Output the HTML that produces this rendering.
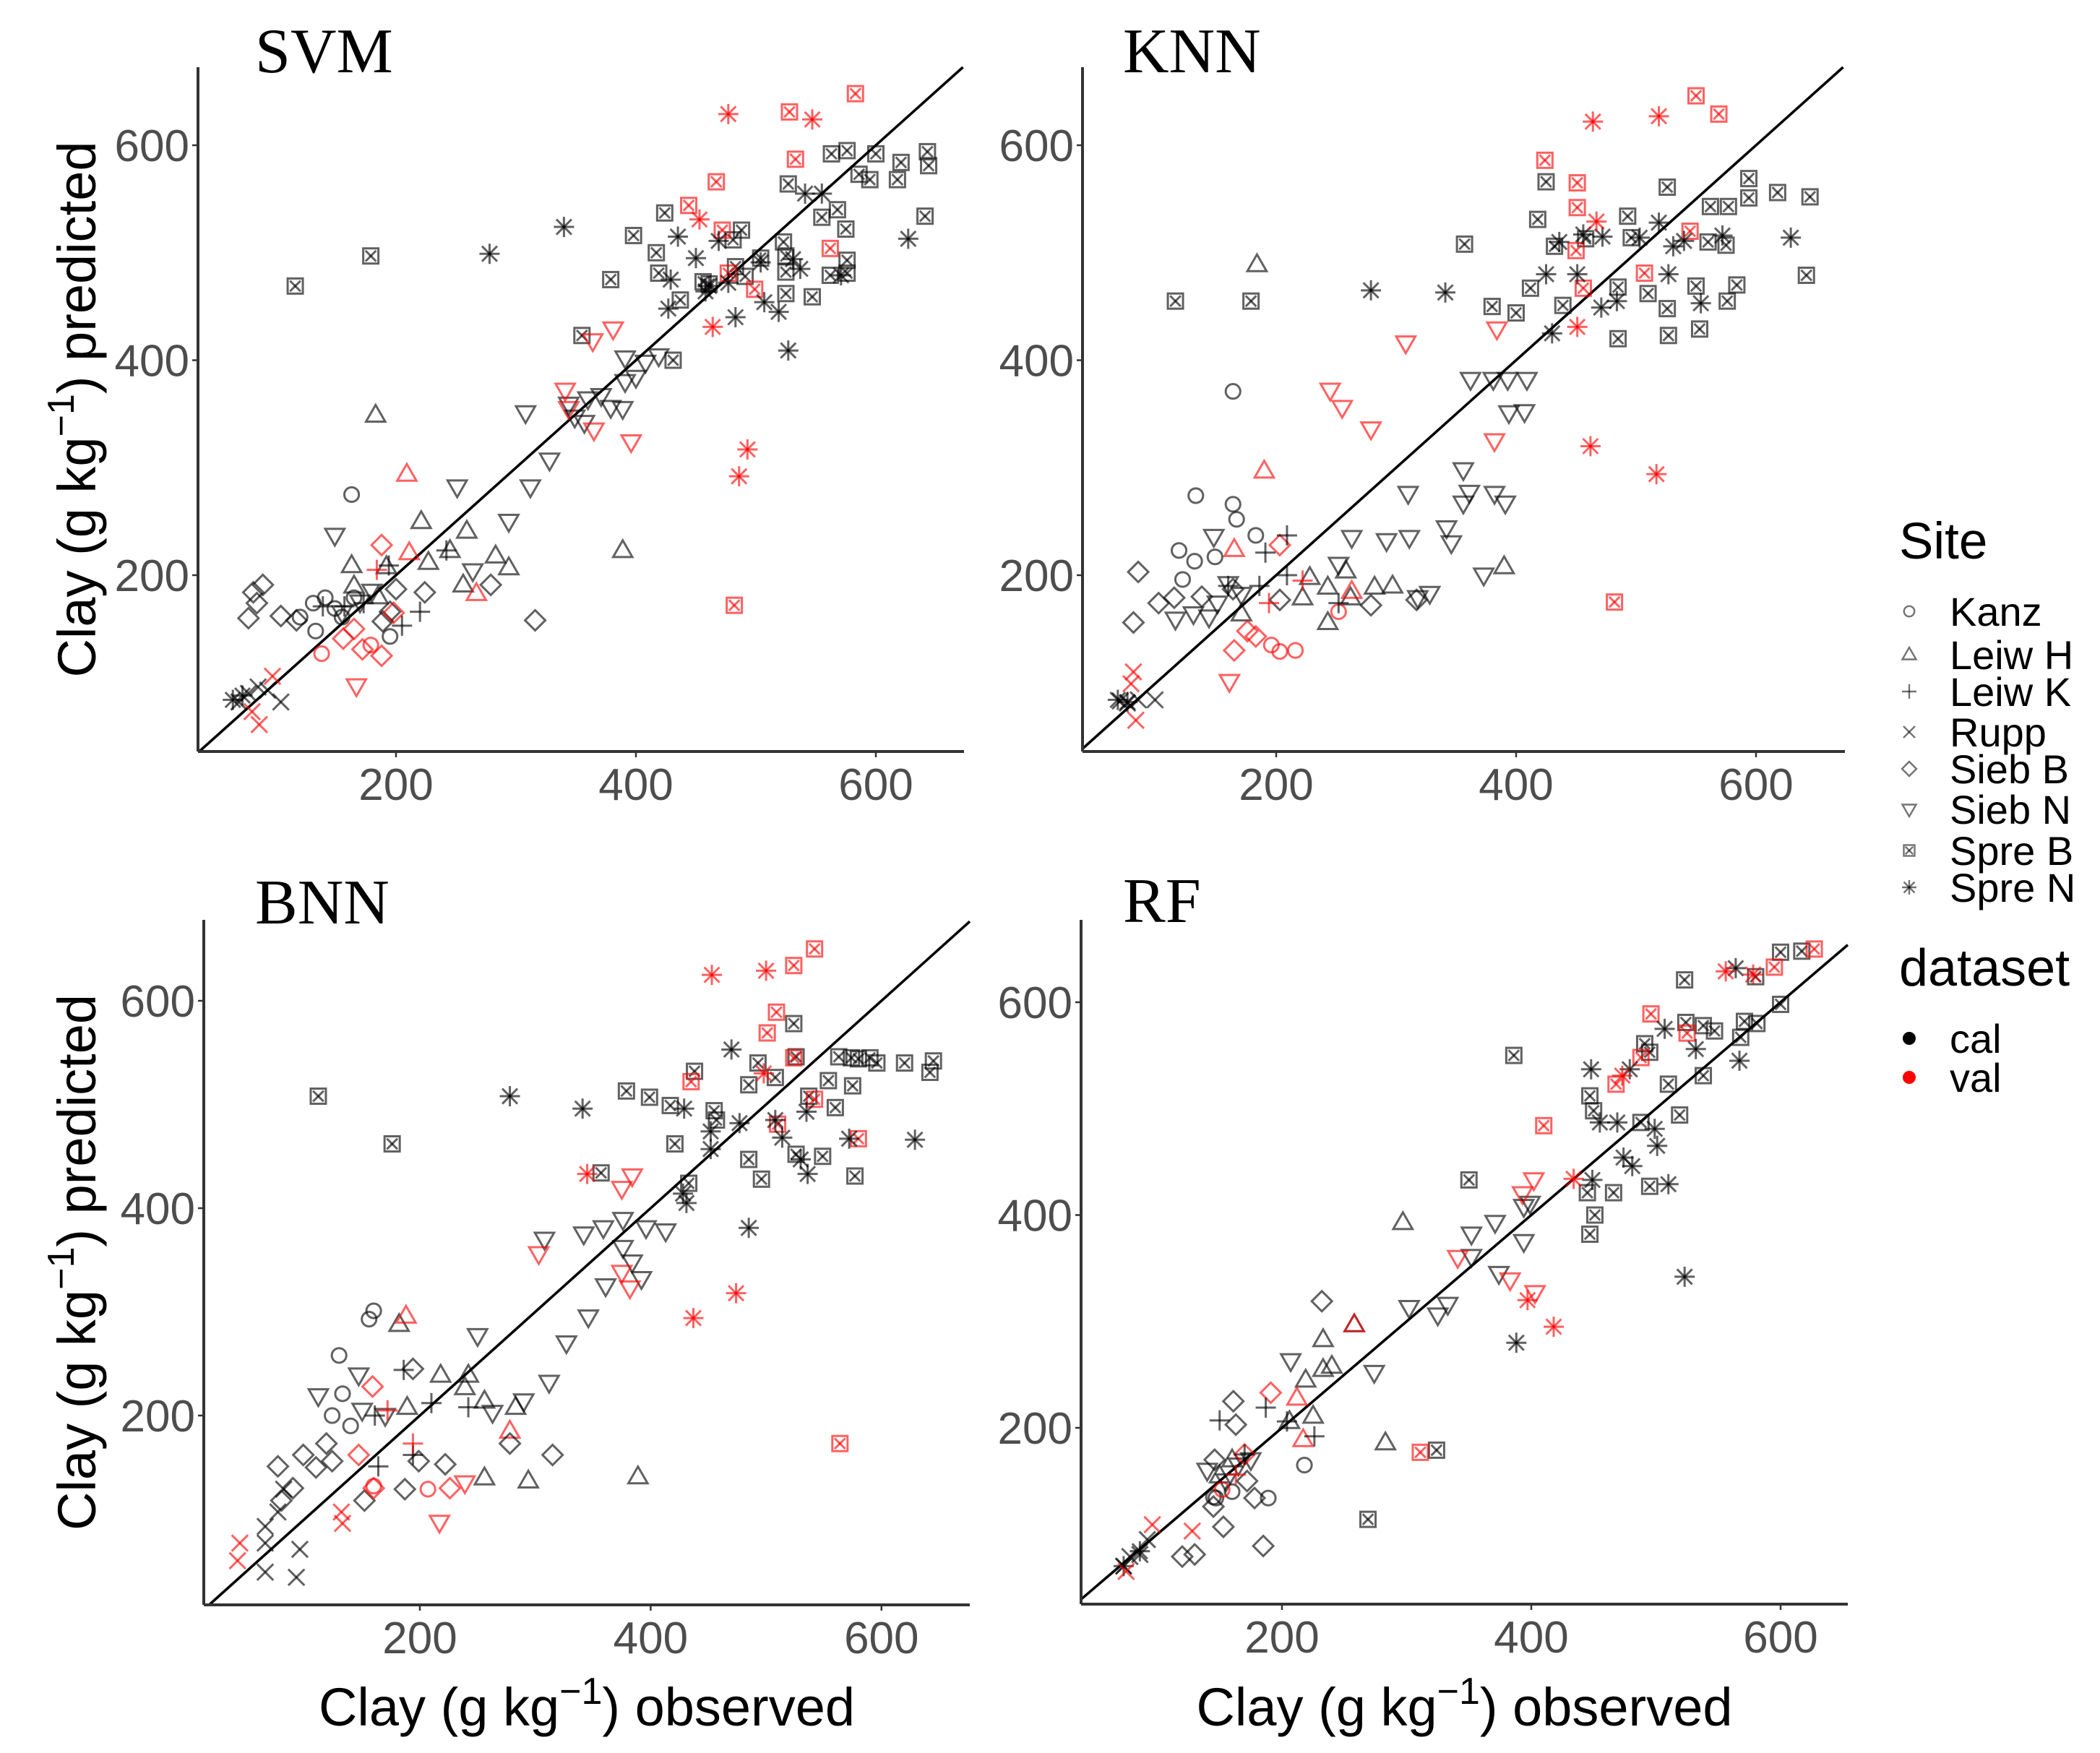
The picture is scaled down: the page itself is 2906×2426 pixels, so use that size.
<!DOCTYPE html>
<html><head><meta charset="utf-8"><title>Clay predicted vs observed</title>
<style>html,body{margin:0;padding:0;background:#fff}svg{display:block}</style></head>
<body>
<svg id="chart" width="2906" height="2426" viewBox="0 0 2906 2426" xmlns="http://www.w3.org/2000/svg" font-family="Liberation Sans, sans-serif">
<rect width="2906" height="2426" fill="#fff"/>
<g id="panels"></g>
<g id="legend">
  <text x="2628" y="773" font-size="71" fill="#000">Site</text>
  <text x="2628" y="1364" font-size="72" fill="#000">dataset</text>
  <circle cx="2642" cy="1437" r="9" fill="#000"/>
  <text x="2698" y="1457" font-size="56" fill="#000">cal</text>
  <circle cx="2642" cy="1491" r="9" fill="#f00"/>
  <text x="2698" y="1511" font-size="56" fill="#000">val</text>
</g>
</svg>
<script>
// ---- data (observed, predicted) per panel: [site, dataset, obs, pred]
const siteNames = ["Kanz","Leiw H","Leiw K","Rupp","Sieb B","Sieb N","Spre B","Spre N"];
const xTicks = [200,400,600];
const yTicks = [200,400,600];
const panelTitles = ["SVM","KNN","BNN","RF"];

const svmPoints = [
["Spre B","cal",116,469],["Spre B","cal",179,497],["Spre B","cal",424,537],["Spre B","cal",398,516],["Spre B","cal",417,500],["Spre B","cal",419,481],["Spre B","cal",379,475],["Spre B","cal",355,423],["Spre B","cal",431,400],["Spre B","cal",437,456],["Spre B","cal",456,473],["Spre B","cal",461,471],["Spre B","cal",481,512],["Spre B","cal",488,521],["Spre B","cal",483,487],["Spre B","cal",491,478],["Spre B","cal",504,495],["Spre B","cal",523,510],["Spre B","cal",527,564],["Spre B","cal",525,497],["Spre B","cal",525,482],["Spre B","cal",525,462],["Spre B","cal",547,459],["Spre B","cal",555,533],["Spre B","cal",563,592],["Spre B","cal",568,540],["Spre B","cal",575,522],["Spre B","cal",576,595],["Spre B","cal",576,481],["Spre B","cal",576,493],["Spre B","cal",562,479],["Spre B","cal",586,573],["Spre B","cal",595,568],["Spre B","cal",600,592],["Spre B","cal",618,568],["Spre B","cal",621,584],["Spre B","cal",643,594],["Spre B","cal",644,581],["Spre B","cal",641,534],
["Spre B","val",583,648],["Spre B","val",528,631],["Spre B","val",533,587],["Spre B","val",467,566],["Spre B","val",444,544],["Spre B","val",472,521],["Spre B","val",477,481],["Spre B","val",499,466],["Spre B","val",562,504],["Spre B","val",482,172],
["Spre N","cal",340,524],["Spre N","cal",278,499],["Spre N","cal",435,515],["Spre N","cal",450,495],["Spre N","cal",469,511],["Spre N","cal",427,448],["Spre N","cal",429,475],["Spre N","cal",461,469],["Spre N","cal",477,472],["Spre N","cal",483,440],["Spre N","cal",507,454],["Spre N","cal",519,445],["Spre N","cal",527,409],["Spre N","cal",531,494],["Spre N","cal",537,485],["Spre N","cal",541,555],["Spre N","cal",555,555],["Spre N","cal",571,479],["Spre N","cal",627,513],["Spre N","cal",504,491],["Spre N","cal",458,464],["Spre N","cal",64,84],["Spre N","cal",72,88],
["Spre N","val",477,629],["Spre N","val",547,624],["Spre N","val",453,531],["Spre N","val",464,431],["Spre N","val",493,317],["Spre N","val",486,292],
["Sieb N","cal",308,351],["Sieb N","cal",251,282],["Sieb N","cal",312,282],["Sieb N","cal",294,250],["Sieb N","cal",328,307],["Sieb N","cal",149,237],["Sieb N","cal",391,402],["Sieb N","cal",408,398],["Sieb N","cal",391,380],["Sieb N","cal",344,359],["Sieb N","cal",360,364],["Sieb N","cal",371,367],["Sieb N","cal",379,356],["Sieb N","cal",389,355],["Sieb N","cal",400,384],["Sieb N","cal",349,347],["Sieb N","cal",357,342],["Sieb N","cal",264,204],["Sieb N","cal",419,404],["Sieb N","cal",170,175],["Sieb N","cal",155,165],["Sieb N","cal",180,185],
["Sieb N","val",341,372],["Sieb N","val",381,429],["Sieb N","val",364,418],["Sieb N","val",344,355],["Sieb N","val",365,335],["Sieb N","val",396,324],["Sieb N","val",167,97],
["Leiw H","cal",183,349],["Leiw H","cal",221,250],["Leiw H","cal",259,241],["Leiw H","cal",245,223],["Leiw H","cal",227,212],["Leiw H","cal",283,218],["Leiw H","cal",294,207],["Leiw H","cal",256,191],["Leiw H","cal",163,209],["Leiw H","cal",389,223],["Leiw H","cal",192,208],["Leiw H","cal",165,190],["Leiw H","cal",185,180],
["Leiw H","val",209,294],["Leiw H","val",211,221],["Leiw H","val",267,183],
["Sieb B","cal",77,160],["Sieb B","cal",81,184],["Sieb B","cal",89,191],["Sieb B","cal",84,174],["Sieb B","cal",104,162],["Sieb B","cal",117,158],["Sieb B","cal",200,187],["Sieb B","cal",224,184],["Sieb B","cal",279,191],["Sieb B","cal",316,158],["Sieb B","cal",189,157],["Sieb B","cal",195,166],
["Sieb B","val",188,228],["Sieb B","val",156,141],["Sieb B","val",165,150],["Sieb B","val",188,125],["Sieb B","val",172,131],["Sieb B","val",198,165],
["Kanz","cal",163,275],["Kanz","cal",120,161],["Kanz","cal",131,174],["Kanz","cal",141,179],["Kanz","cal",149,169],["Kanz","cal",165,179],["Kanz","cal",155,161],["Kanz","cal",133,148],["Kanz","cal",195,143],
["Kanz","val",138,127],["Kanz","val",179,135],
["Leiw K","cal",194,209],["Leiw K","cal",220,166],["Leiw K","cal",205,153],["Leiw K","cal",242,223],["Leiw K","cal",157,171],["Leiw K","cal",173,174],["Leiw K","cal",139,171],
["Leiw K","val",184,205],
["Rupp","cal",69,82],["Rupp","cal",77,90],["Rupp","cal",85,96],["Rupp","cal",104,82],["Rupp","cal",93,93],
["Rupp","val",97,106],["Rupp","val",86,61],["Rupp","val",80,73]
];

const knnPoints = [
["Spre B","cal",116,455],["Spre B","cal",179,455],["Spre B","cal",357,508],["Spre B","cal",380,450],["Spre B","cal",400,444],["Spre B","cal",412,467],["Spre B","cal",418,531],["Spre B","cal",425,566],["Spre B","cal",432,506],["Spre B","cal",439,451],["Spre B","cal",458,513],["Spre B","cal",485,468],["Spre B","cal",485,420],["Spre B","cal",493,534],["Spre B","cal",496,514],["Spre B","cal",510,462],["Spre B","cal",526,561],["Spre B","cal",526,448],["Spre B","cal",527,423],["Spre B","cal",550,469],["Spre B","cal",553,429],["Spre B","cal",560,510],["Spre B","cal",562,543],["Spre B","cal",577,543],["Spre B","cal",575,507],["Spre B","cal",576,455],["Spre B","cal",584,470],["Spre B","cal",594,569],["Spre B","cal",594,551],["Spre B","cal",618,556],["Spre B","cal",645,552],["Spre B","cal",642,479],
["Spre B","val",550,646],["Spre B","val",569,629],["Spre B","val",424,586],["Spre B","val",451,565],["Spre B","val",451,542],["Spre B","val",450,502],["Spre B","val",456,467],["Spre B","val",545,520],["Spre B","val",507,481],["Spre B","val",482,175],
["Spre N","cal",279,465],["Spre N","cal",341,463],["Spre N","cal",425,480],["Spre N","cal",430,425],["Spre N","cal",436,510],["Spre N","cal",451,480],["Spre N","cal",456,517],["Spre N","cal",471,449],["Spre N","cal",484,455],["Spre N","cal",503,514],["Spre N","cal",519,528],["Spre N","cal",527,480],["Spre N","cal",531,506],["Spre N","cal",540,511],["Spre N","cal",554,453],["Spre N","cal",572,516],["Spre N","cal",629,514],["Spre N","cal",472,515],["Spre N","cal",68,84],["Spre N","cal",76,82],
["Spre N","val",464,622],["Spre N","val",519,627],["Spre N","val",467,529],["Spre N","val",451,431],["Spre N","val",462,320],["Spre N","val",517,294],
["Sieb N","cal",362,382],["Sieb N","cal",381,382],["Sieb N","cal",393,382],["Sieb N","cal",409,382],["Sieb N","cal",394,351],["Sieb N","cal",407,352],["Sieb N","cal",356,298],["Sieb N","cal",310,276],["Sieb N","cal",361,277],["Sieb N","cal",382,276],["Sieb N","cal",391,267],["Sieb N","cal",356,267],["Sieb N","cal",342,244],["Sieb N","cal",346,230],["Sieb N","cal",263,235],["Sieb N","cal",292,232],["Sieb N","cal",311,235],["Sieb N","cal",373,200],["Sieb N","cal",328,183],["Sieb N","cal",318,179],["Sieb N","cal",148,236],["Sieb N","cal",252,210],["Sieb N","cal",116,159],["Sieb N","cal",144,161],["Sieb N","cal",131,164],["Sieb N","cal",160,192],["Sieb N","cal",171,182],["Sieb N","cal",151,174],
["Sieb N","val",384,429],["Sieb N","val",308,416],["Sieb N","val",245,372],["Sieb N","val",255,356],["Sieb N","val",279,336],["Sieb N","val",382,325],["Sieb N","val",161,101],
["Leiw H","cal",184,489],["Leiw H","cal",228,198],["Leiw H","cal",243,189],["Leiw H","cal",258,204],["Leiw H","cal",297,190],["Leiw H","cal",282,189],["Leiw H","cal",222,179],["Leiw H","cal",243,156],["Leiw H","cal",390,208],["Leiw H","cal",171,164],["Leiw H","cal",262,179],
["Leiw H","val",190,297],["Leiw H","val",165,224],["Leiw H","val",263,185],
["Kanz","cal",164,371],["Kanz","cal",133,274],["Kanz","cal",164,266],["Kanz","cal",167,252],["Kanz","cal",119,223],["Kanz","cal",132,213],["Kanz","cal",149,217],["Kanz","cal",122,196],["Kanz","cal",183,237],
["Kanz","val",216,130],["Kanz","val",203,129],["Kanz","val",252,166],["Kanz","val",196,135],
["Sieb B","cal",85,203],["Sieb B","cal",81,156],["Sieb B","cal",102,174],["Sieb B","cal",138,180],["Sieb B","cal",164,187],["Sieb B","cal",203,177],["Sieb B","cal",279,172],["Sieb B","cal",317,177],["Sieb B","cal",115,179],
["Sieb B","val",203,228],["Sieb B","val",183,143],["Sieb B","val",165,130],["Sieb B","val",176,148],
["Leiw K","cal",209,237],["Leiw K","cal",191,221],["Leiw K","cal",209,200],["Leiw K","cal",186,190],["Leiw K","cal",252,174],["Leiw K","cal",160,190],
["Leiw K","val",194,174],["Leiw K","val",222,195],
["Rupp","cal",70,83],["Rupp","cal",85,84],["Rupp","cal",99,84],["Rupp","cal",76,81],
["Rupp","val",81,110],["Rupp","val",79,99],["Rupp","val",83,65]
];

const bnnPoints = [
["Spre B","cal",112,508],["Spre B","cal",176,462],["Spre B","cal",357,434],["Spre B","cal",379,513],["Spre B","cal",399,507],["Spre B","cal",417,499],["Spre B","cal",421,462],["Spre B","cal",433,424],["Spre B","cal",438,532],["Spre B","cal",455,494],["Spre B","cal",457,485],["Spre B","cal",485,519],["Spre B","cal",485,447],["Spre B","cal",493,540],["Spre B","cal",496,428],["Spre B","cal",508,526],["Spre B","cal",524,578],["Spre B","cal",526,546],["Spre B","cal",526,452],["Spre B","cal",537,508],["Spre B","cal",549,450],["Spre B","cal",554,523],["Spre B","cal",560,497],["Spre B","cal",563,546],["Spre B","cal",575,518],["Spre B","cal",577,431],["Spre B","cal",580,544],["Spre B","cal",596,540],["Spre B","cal",620,540],["Spre B","cal",645,542],["Spre B","cal",642,531],["Spre B","cal",574,545],["Spre B","cal",590,545],
["Spre B","val",542,650],["Spre B","val",524,634],["Spre B","val",509,589],["Spre B","val",501,569],["Spre B","val",524,545],["Spre B","val",435,522],["Spre B","val",510,481],["Spre B","val",542,505],["Spre B","val",580,467],["Spre B","val",564,173],
["Spre N","cal",278,508],["Spre N","cal",341,496],["Spre N","cal",470,553],["Spre N","cal",428,414],["Spre N","cal",431,405],["Spre N","cal",485,381],["Spre N","cal",429,496],["Spre N","cal",452,474],["Spre N","cal",477,482],["Spre N","cal",508,485],["Spre N","cal",514,468],["Spre N","cal",530,447],["Spre N","cal",536,433],["Spre N","cal",535,493],["Spre N","cal",572,467],["Spre N","cal",629,466],["Spre N","cal",452,457],
["Spre N","val",453,625],["Spre N","val",500,629],["Spre N","val",498,530],["Spre N","val",345,433],["Spre N","val",474,318],["Spre N","val",437,294],
["Sieb N","cal",308,370],["Sieb N","cal",342,375],["Sieb N","cal",359,381],["Sieb N","cal",376,389],["Sieb N","cal",396,381],["Sieb N","cal",413,378],["Sieb N","cal",376,362],["Sieb N","cal",384,348],["Sieb N","cal",392,332],["Sieb N","cal",361,325],["Sieb N","cal",346,295],["Sieb N","cal",327,270],["Sieb N","cal",250,277],["Sieb N","cal",312,232],["Sieb N","cal",290,214],["Sieb N","cal",263,203],["Sieb N","cal",147,239],["Sieb N","cal",112,219],["Sieb N","cal",150,205],["Sieb N","cal",170,200],
["Sieb N","val",303,356],["Sieb N","val",375,419],["Sieb N","val",384,431],["Sieb N","val",375,338],["Sieb N","val",382,323],["Sieb N","val",239,135],["Sieb N","val",217,97],
["Leiw H","cal",182,288],["Leiw H","cal",218,239],["Leiw H","cal",242,239],["Leiw H","cal",256,214],["Leiw H","cal",283,208],["Leiw H","cal",256,140],["Leiw H","cal",294,137],["Leiw H","cal",389,141],["Leiw H","cal",239,227],["Leiw H","cal",189,208],
["Leiw H","val",188,296],["Leiw H","val",278,185],
["Kanz","cal",160,301],["Kanz","cal",156,293],["Kanz","cal",130,258],["Kanz","cal",133,221],["Kanz","cal",124,200],["Kanz","cal",140,190],
["Kanz","val",207,129],["Kanz","val",160,132],
["Sieb B","cal",99,162],["Sieb B","cal",77,151],["Sieb B","cal",124,156],["Sieb B","cal",80,118],["Sieb B","cal",187,129],["Sieb B","cal",199,156],["Sieb B","cal",222,153],["Sieb B","cal",278,173],["Sieb B","cal",315,162],["Sieb B","cal",194,245],["Sieb B","cal",152,118],["Sieb B","cal",119,173],["Sieb B","cal",90,130],["Sieb B","cal",110,150],
["Sieb B","val",159,228],["Sieb B","val",160,130],["Sieb B","val",226,130],["Sieb B","val",147,162],
["Leiw K","cal",186,244],["Leiw K","cal",210,212],["Leiw K","cal",242,208],["Leiw K","cal",161,200],["Leiw K","cal",194,162],["Leiw K","cal",164,151],
["Leiw K","val",172,205],["Leiw K","val",194,173],
["Rupp","cal",66,93],["Rupp","cal",77,107],["Rupp","cal",66,49],["Rupp","cal",93,44],["Rupp","cal",96,71],["Rupp","cal",66,77],["Rupp","cal",82,129],
["Rupp","val",44,77],["Rupp","val",42,60],["Rupp","val",132,107],["Rupp","val",133,96]
];

const rfPoints = [
["Spre B","cal",386,550],["Spre B","cal",350,433],["Spre B","cal",324,179],["Spre B","cal",269,114],["Spre B","cal",447,512],["Spre B","cal",447,382],["Spre B","cal",451,400],["Spre B","cal",445,421],["Spre B","cal",450,498],["Spre B","cal",466,421],["Spre B","cal",488,487],["Spre B","cal",495,427],["Spre B","cal",510,523],["Spre B","cal",519,494],["Spre B","cal",523,621],["Spre B","cal",524,581],["Spre B","cal",538,578],["Spre B","cal",538,531],["Spre B","cal",547,573],["Spre B","cal",568,567],["Spre B","cal",571,582],["Spre B","cal",580,624],["Spre B","cal",581,580],["Spre B","cal",600,598],["Spre B","cal",600,647],["Spre B","cal",617,648],["Spre B","cal",491,561],["Spre B","cal",495,553],
["Spre B","val",627,650],["Spre B","val",595,633],["Spre B","val",496,589],["Spre B","val",488,548],["Spre B","val",468,523],["Spre B","val",410,484],["Spre B","val",311,177],["Spre B","val",525,571],
["Spre N","cal",448,537],["Spre N","cal",479,537],["Spre N","cal",507,575],["Spre N","cal",532,556],["Spre N","cal",567,545],["Spre N","cal",564,632],["Spre N","cal",455,487],["Spre N","cal",449,433],["Spre N","cal",469,487],["Spre N","cal",481,446],["Spre N","cal",499,481],["Spre N","cal",510,429],["Spre N","cal",523,342],["Spre N","cal",388,280],["Spre N","cal",474,454],["Spre N","cal",501,465],["Spre N","cal",73,70],["Spre N","cal",86,84],
["Spre N","val",556,629],["Spre N","val",578,626],["Spre N","val",473,531],["Spre N","val",434,434],["Spre N","val",397,320],["Spre N","val",418,295],
["Sieb N","cal",394,375],["Sieb N","cal",399,411],["Sieb N","cal",371,393],["Sieb N","cal",352,382],["Sieb N","cal",374,345],["Sieb N","cal",333,316],["Sieb N","cal",302,313],["Sieb N","cal",274,252],["Sieb N","cal",207,263],["Sieb N","cal",325,306],["Sieb N","cal",352,361],["Sieb N","cal",394,408],["Sieb N","cal",140,160],["Sieb N","cal",155,150],["Sieb N","cal",165,165],["Sieb N","cal",175,170],
["Sieb N","val",402,433],["Sieb N","val",393,420],["Sieb N","val",341,360],["Sieb N","val",383,339],["Sieb N","val",403,327],
["Leiw H","cal",297,393],["Leiw H","cal",283,186],["Leiw H","cal",233,283],["Leiw H","cal",233,255],["Leiw H","cal",219,245],["Leiw H","cal",240,258],["Leiw H","cal",258,297],["Leiw H","cal",225,211],["Leiw H","cal",206,206],["Leiw H","cal",150,155],["Leiw H","cal",160,170],
["Leiw H","val",217,189],["Leiw H","val",258,297],["Leiw H","val",212,228],
["Sieb B","cal",232,319],["Sieb B","cal",161,225],["Sieb B","cal",163,203],["Sieb B","cal",146,170],["Sieb B","cal",153,107],["Sieb B","cal",185,89],["Sieb B","cal",120,79],["Sieb B","cal",130,81],["Sieb B","cal",178,134],["Sieb B","cal",145,126],["Sieb B","cal",172,150],
["Sieb B","val",191,233],["Sieb B","val",170,175],
["Kanz","cal",218,165],["Kanz","cal",189,134],["Kanz","cal",147,134],["Kanz","cal",145,135],["Kanz","cal",160,140],
["Kanz","val",152,142],
["Leiw K","cal",150,207],["Leiw K","cal",187,219],["Leiw K","cal",226,192],["Leiw K","cal",204,206],["Leiw K","cal",170,175],
["Leiw K","val",163,156],
["Rupp","cal",73,70],["Rupp","cal",78,79],["Rupp","cal",86,81],["Rupp","cal",92,95],
["Rupp","val",96,109],["Rupp","val",75,65],["Rupp","val",128,103]
];

// ---- layout (pixel geometry only)
const panels = [
 {id:"svm", title:panelTitles[0], pts:svmPoints, L:274,R:1334,T:93,B:1040, xa:548,xs:1.66, ya:796,ys:1.4875, tx:353,ty:100, ytitle:true, xtitle:false},
 {id:"knn", title:panelTitles[1], pts:knnPoints, L:1498,R:2553,T:93,B:1040, xa:1766,xs:1.66, ya:796,ys:1.4875, tx:1554,ty:100, ytitle:false, xtitle:false},
 {id:"bnn", title:panelTitles[2], pts:bnnPoints, L:282,R:1342,T:1273,B:2221, xa:581,xs:1.597, ya:1959,ys:1.435, tx:353,ty:1278, ytitle:true, xtitle:true},
 {id:"rf", title:panelTitles[3], pts:rfPoints, L:1496,R:2557,T:1273,B:2220, xa:1774,xs:1.725, ya:1976,ys:1.4725, tx:1554,ty:1276, ytitle:false, xtitle:true}
];
const NS="http://www.w3.org/2000/svg";
function mk(tag, attrs, parent){const e=document.createElementNS(NS,tag);for(const k in attrs)e.setAttribute(k,attrs[k]);if(parent)parent.appendChild(e);return e;}
const shapeOf = {"Kanz":"circle","Leiw H":"tri","Leiw K":"plus","Rupp":"cross","Sieb B":"diamond","Sieb N":"dtri","Spre B":"sqx","Spre N":"star"};
function drawShape(g, shape, cx, cy, s, color, sw){
  const st = {fill:"none", stroke:color, "stroke-width":sw};
  const line=(x1,y1,x2,y2)=>mk("line",Object.assign({x1:cx+x1,y1:cy+y1,x2:cx+x2,y2:cy+y2},st),g);
  if(shape==="circle") mk("circle",Object.assign({cx:cx,cy:cy,r:s*0.72},st),g);
  else if(shape==="tri") mk("polygon",Object.assign({points:`${cx},${cy-s} ${cx+s*0.95},${cy+s*0.65} ${cx-s*0.95},${cy+s*0.65}`},st),g);
  else if(shape==="dtri") mk("polygon",Object.assign({points:`${cx},${cy+s} ${cx+s*0.95},${cy-s*0.65} ${cx-s*0.95},${cy-s*0.65}`},st),g);
  else if(shape==="diamond") mk("polygon",Object.assign({points:`${cx},${cy-s} ${cx+s},${cy} ${cx},${cy+s} ${cx-s},${cy}`},st),g);
  else if(shape==="plus"){line(-s,0,s,0);line(0,-s,0,s);}
  else if(shape==="cross"){const d=s*0.8;line(-d,-d,d,d);line(-d,d,d,-d);}
  else if(shape==="sqx"){const d=s*0.75;mk("rect",Object.assign({x:cx-d,y:cy-d,width:2*d,height:2*d},st),g);const e=d*0.7;line(-e,-e,e,e);line(-e,e,e,-e);}
  else if(shape==="star"){const d=s*0.75;line(-s,0,s,0);line(0,-s,0,s);line(-d,-d,d,d);line(-d,d,d,-d);}
}
const root=document.getElementById("panels");
panels.forEach(p=>{
  const g=mk("g",{},root);
  
  
  const X=v=>p.xa+(v-200)*p.xs, Y=v=>p.ya-(v-200)*p.ys;
  const invX=px=>200+(px-p.xa)/p.xs, invY=py=>200+(p.ya-py)/p.ys;
  const lo=Math.max(invX(p.L),invY(p.B)), hi=Math.min(invX(p.R),invY(p.T));
  const dl=mk("line",{x1:X(lo),y1:Y(lo),x2:X(hi),y2:Y(hi),stroke:"#000","stroke-width":3.6},g);
  
  
  const pg=mk("g",{},g);
  
  
  p.pts.forEach(d=>{
    const sg=mk("g",{},pg);
    
    
    const col = d[1]==="cal" ? "rgba(0,0,0,0.62)" : "rgba(255,0,0,0.62)";
    drawShape(sg, shapeOf[d[0]], X(d[2]), Y(d[3]), 14, col, 3);
  });
  const ax=mk("line",{x1:p.L,y1:p.B,x2:p.R,y2:p.B,stroke:"#333","stroke-width":4},g);
  
  
  const ay=mk("line",{x1:p.L,y1:p.T,x2:p.L,y2:p.B,stroke:"#333","stroke-width":4},g);
  
  
  xTicks.forEach(t=>{
    mk("line",{x1:X(t),y1:p.B,x2:X(t),y2:p.B+8,stroke:"#333","stroke-width":2.5},g);
    const tl=mk("text",{x:X(t),y:p.B+67,"text-anchor":"middle","font-size":62,fill:"#4d4d4d"},g);
    
    
    tl.textContent=t;
  });
  yTicks.forEach(t=>{
    mk("line",{x1:p.L-8,y1:Y(t),x2:p.L,y2:Y(t),stroke:"#333","stroke-width":2.5},g);
    const tl=mk("text",{x:p.L-12,y:Y(t)+22,"text-anchor":"end","font-size":62,fill:"#4d4d4d"},g);
    
    
    tl.textContent=t;
  });
  const tt=mk("text",{x:p.tx,y:p.ty,"font-family":"Liberation Serif, serif","font-size":88,fill:"#000"},g);
  
  
  tt.textContent=p.title;
  if(p.ytitle){
    const cy=(p.T+p.B)/2;
    const yt=mk("text",{x:0,y:0,transform:`translate(132,${cy}) rotate(-90)`,"text-anchor":"middle","font-size":74,fill:"#000"},g);
    
    
    yt.innerHTML='Clay (g kg<tspan font-size="52" dy="-30">−1</tspan><tspan dy="30">) predicted</tspan>';
  }
  if(p.xtitle){
    const cx=(p.L+p.R)/2;
    const xt=mk("text",{x:cx,y:2388,"text-anchor":"middle","font-size":74,fill:"#000"},g);
    
    
    xt.innerHTML='Clay (g kg<tspan font-size="52" dy="-30">−1</tspan><tspan dy="30">) observed</tspan>';
  }
});
const legendY=[846,906,957,1013,1064,1120,1177,1228];
const lg=document.getElementById("legend");
siteNames.forEach((n,i)=>{
  const eg=mk("g",{},lg);
  
  
  drawShape(eg, shapeOf[n], 2642, legendY[i], 10, "rgba(0,0,0,0.55)", 2.4);
  const t=mk("text",{x:2698,y:legendY[i]+20,"font-size":56,fill:"#000"},eg);
  t.textContent=n;
});
</script>
</body></html>
